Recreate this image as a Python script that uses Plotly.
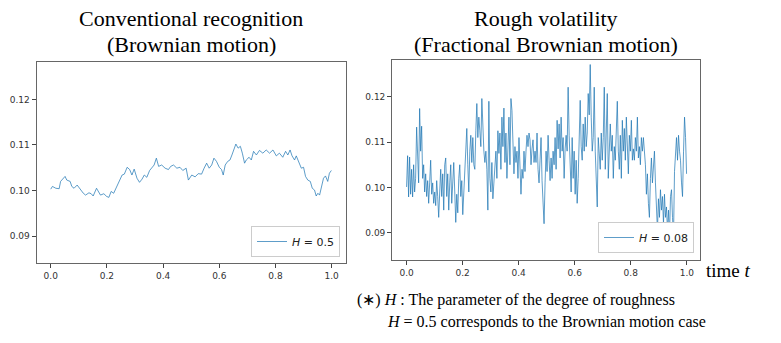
import numpy as np
import plotly.graph_objects as go

# ---- data ----
bm_t = [0, 0.006, 0.018, 0.030, 0.035, 0.045, 0.051, 0.057, 0.069, 0.075,
        0.083, 0.094, 0.106, 0.116, 0.124, 0.136, 0.144, 0.151, 0.163, 0.171,
        0.177, 0.189, 0.199, 0.207, 0.215, 0.224, 0.230, 0.242, 0.254, 0.262,
        0.272, 0.281, 0.289, 0.297, 0.307, 0.316, 0.325, 0.333, 0.342, 0.352,
        0.360, 0.368, 0.376, 0.384, 0.395, 0.407, 0.419, 0.427, 0.437, 0.449,
        0.460, 0.470, 0.482, 0.490, 0.502, 0.514, 0.525, 0.537, 0.546, 0.555,
        0.564, 0.573, 0.581, 0.590, 0.600, 0.608, 0.614, 0.621, 0.630, 0.638,
        0.645, 0.651, 0.659, 0.667, 0.675, 0.682, 0.690, 0.696, 0.706, 0.714,
        0.722, 0.732, 0.743, 0.755, 0.767, 0.779, 0.791, 0.803, 0.814, 0.826,
        0.836, 0.844, 0.852, 0.859, 0.868, 0.874, 0.883, 0.892, 0.900, 0.907,
        0.915, 0.924, 0.931, 0.939, 0.945, 0.951, 0.957, 0.963, 0.971, 0.978,
        0.986, 0.992, 0.999]
bm_v = [0.1003, 0.1009, 0.1005, 0.1004, 0.1020, 0.1027, 0.1031, 0.1023, 0.1020, 0.1009,
        0.1005, 0.1012, 0.1002, 0.0994, 0.0990, 0.0995, 0.0993, 0.0988, 0.1005, 0.0998,
        0.0990, 0.0993, 0.0987, 0.0985, 0.0998, 0.0994, 0.1002, 0.1020, 0.1034, 0.1036,
        0.1051, 0.1046, 0.1034, 0.1047, 0.1027, 0.1018, 0.1025, 0.1034, 0.1029, 0.1044,
        0.1051, 0.1056, 0.1071, 0.1053, 0.1056, 0.1049, 0.1046, 0.1053, 0.1056, 0.1049,
        0.1051, 0.1044, 0.1049, 0.1023, 0.1034, 0.1030, 0.1037, 0.1036, 0.1049, 0.1060,
        0.1049, 0.1056, 0.1071, 0.1064, 0.1051, 0.1046, 0.1034, 0.1056, 0.1064, 0.1067,
        0.1078, 0.1089, 0.1102, 0.1093, 0.1097, 0.1082, 0.1060, 0.1067, 0.1073, 0.1067,
        0.1086, 0.1078, 0.1088, 0.1082, 0.1089, 0.1082, 0.1089, 0.1076, 0.1082, 0.1073,
        0.1086, 0.1078, 0.1089, 0.1076, 0.1067, 0.1076, 0.1062, 0.1049, 0.1051, 0.1031,
        0.1023, 0.1020, 0.1005, 0.1001, 0.0988, 0.0994, 0.0990, 0.1009, 0.1027, 0.1032,
        0.1020, 0.1038, 0.1044]

fbm_v = [0.1001, 0.107, 0.0979, 0.1067, 0.0985, 0.104, 0.0979, 0.105, 0.099, 0.102,
         0.1133, 0.106, 0.101, 0.1174, 0.108, 0.1135, 0.102, 0.105, 0.099, 0.103,
         0.098, 0.1015, 0.0965, 0.101, 0.106, 0.0985, 0.101, 0.0965, 0.099, 0.096,
         0.1015, 0.098, 0.0934, 0.099, 0.104, 0.098, 0.103, 0.095, 0.105, 0.1065,
         0.098, 0.103, 0.095, 0.101, 0.105, 0.0965, 0.102, 0.1055, 0.099, 0.0923,
         0.0985, 0.0944, 0.102, 0.105, 0.098, 0.1015, 0.094, 0.099, 0.1035, 0.108,
         0.113, 0.105, 0.099, 0.108, 0.1115, 0.1055, 0.111, 0.105, 0.104, 0.1125,
         0.1185, 0.111, 0.1155, 0.1125, 0.109, 0.1196, 0.112, 0.108, 0.1055, 0.108,
         0.104, 0.095, 0.119, 0.102, 0.099, 0.1055, 0.0975, 0.101, 0.1035, 0.108,
         0.102, 0.1125, 0.1075, 0.112, 0.104, 0.1155, 0.109, 0.1175, 0.1055, 0.112,
         0.102, 0.108, 0.1155, 0.105, 0.1196, 0.117, 0.108, 0.103, 0.109, 0.1055,
         0.108, 0.102, 0.111, 0.1055, 0.0985, 0.104, 0.102, 0.108, 0.1035, 0.108,
         0.1115, 0.109, 0.112, 0.1105, 0.105, 0.1085, 0.1105, 0.1055, 0.108, 0.1055,
         0.112, 0.104, 0.101,
         0.106, 0.111, 0.1015, 0.0965, 0.092, 0.101, 0.108, 0.1035, 0.1115, 0.106,
         0.1015, 0.1065, 0.102, 0.108, 0.105, 0.111, 0.104, 0.1148, 0.1085, 0.114,
         0.1065, 0.1155, 0.108, 0.111, 0.102, 0.1085, 0.1115, 0.108, 0.1221, 0.1115,
         0.105, 0.099, 0.111, 0.102, 0.108, 0.0985, 0.106, 0.0965, 0.102, 0.1115,
         0.1192, 0.109, 0.106, 0.114, 0.108, 0.1155, 0.109, 0.112, 0.1207, 0.116,
         0.1271, 0.1155, 0.108, 0.111, 0.1221, 0.108, 0.103, 0.0957, 0.111, 0.108,
         0.104, 0.112, 0.106, 0.111, 0.1221, 0.104, 0.1115, 0.1207, 0.102, 0.1075,
         0.114, 0.108, 0.1115, 0.102, 0.109, 0.106, 0.112, 0.119, 0.108, 0.104,
         0.1115, 0.102, 0.1148, 0.108, 0.113, 0.106, 0.1155, 0.108, 0.103, 0.1115,
         0.108, 0.1148, 0.106, 0.1085, 0.106, 0.111, 0.108, 0.1155, 0.1065, 0.109,
         0.105, 0.111, 0.108, 0.111, 0.108, 0.105, 0.0985, 0.103, 0.0965, 0.0934,
         0.102, 0.1065, 0.101, 0.104, 0.108, 0.101, 0.0965, 0.0905, 0.0975, 0.0934,
         0.0995, 0.095, 0.098, 0.092, 0.0985, 0.0934, 0.0957, 0.0905, 0.095, 0.089,
         0.098, 0.0995, 0.0934, 0.089, 0.1035, 0.108, 0.111, 0.106, 0.1115, 0.108,
         0.106, 0.101, 0.098, 0.108, 0.1155, 0.111, 0.103]
fbm_t = list(np.linspace(0, 0.999, len(fbm_v)))

x_ticks = [0.0, 0.2, 0.4, 0.6, 0.8, 1.0]
y_ticks = [0.09, 0.10, 0.11, 0.12]
labels = ["<i>H</i> = 0.5", "<i>H</i> = 0.08"]

W, H = 781, 343
line_col = "rgba(31,119,180,0.8)"

fig = go.Figure()
fig.add_trace(go.Scatter(x=bm_t, y=bm_v, mode="lines", name=labels[0],
                         line=dict(color=line_col, width=0.9),
                         xaxis="x", yaxis="y", legend="legend"))
fig.add_trace(go.Scatter(x=fbm_t, y=fbm_v, mode="lines", name=labels[1],
                         line=dict(color=line_col, width=0.9),
                         xaxis="x2", yaxis="y2", legend="legend2"))

def px_x(p):
    return p / W

def px_y(p):
    return 1 - p / H

axis_common = dict(showline=True, mirror=True, linecolor="#666", linewidth=1.3,
                   ticks="outside", ticklen=4, tickcolor="#444", tickwidth=1,
                   showgrid=False, zeroline=False,
                   tickfont=dict(family="DejaVu Sans", size=9, color="#333"))

fig.update_layout(
    width=W, height=H, margin=dict(l=0, r=0, t=0, b=0),
    paper_bgcolor="white", plot_bgcolor="white", showlegend=True,
    xaxis=dict(domain=[px_x(36.7), px_x(345.7)], range=[-0.05, 1.05],
               tickvals=x_ticks, tickformat=".1f", anchor="y", **axis_common),
    yaxis=dict(domain=[px_y(263), px_y(62)], range=[0.0841, 0.1282],
               tickvals=y_ticks, tickformat=".2f", anchor="x", **axis_common),
    xaxis2=dict(domain=[px_x(392.3), px_x(700)], range=[-0.051, 1.047],
                tickvals=x_ticks, tickformat=".1f", anchor="y2", **axis_common),
    yaxis2=dict(domain=[px_y(260), px_y(60)], range=[0.0840, 0.1281],
                tickvals=y_ticks, tickformat=".2f", anchor="x2", **axis_common),
    legend=dict(x=px_x(340), y=px_y(257), xanchor="right", yanchor="bottom",
                bgcolor="white", bordercolor="#ccc", borderwidth=1,
                font=dict(family="DejaVu Sans", size=11, color="#222"),
                itemwidth=30, tracegroupgap=0),
    legend2=dict(x=px_x(694), y=px_y(253), xanchor="right", yanchor="bottom",
                 bgcolor="white", bordercolor="#ccc", borderwidth=1,
                 font=dict(family="DejaVu Sans", size=11, color="#222"),
                 itemwidth=30, tracegroupgap=0),
)

serif = "Liberation Serif"
annots = [
    ("Conventional recognition", 191, 18, 22, "center"),
    ("(Brownian motion)", 191, 45, 22, "center"),
    ("Rough volatility", 546, 18, 22, "center"),
    ("(Fractional Brownian motion)", 546, 45, 22, "center"),
    ("time <i>t</i>", 704, 270, 19, "left"),
    ("(\u2217) <i>H</i> : The parameter of the degree of roughness", 355, 300, 16, "left"),
    ("<i>H</i> = 0.5 corresponds to the Brownian motion case", 385, 322, 16, "left"),
]
for text, xp, yp, size, anchor in annots:
    fig.add_annotation(text=text, x=px_x(xp), y=px_y(yp), xref="paper", yref="paper",
                       xanchor=anchor, yanchor="middle", showarrow=False,
                       font=dict(family=serif, size=size, color="black"))

fig.write_html("out.html")
